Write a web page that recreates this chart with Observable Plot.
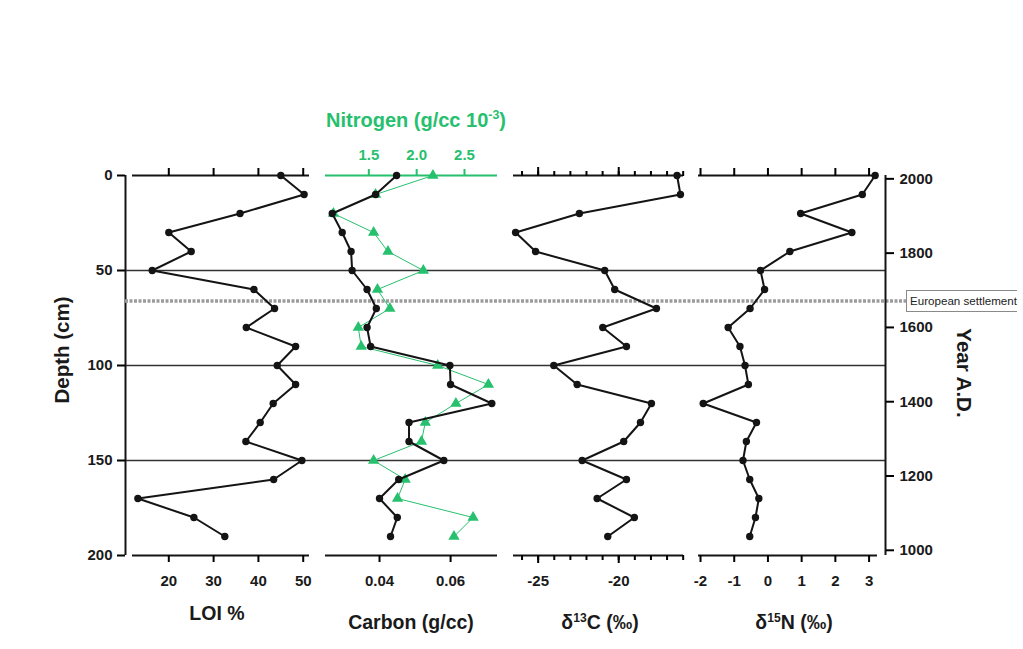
<!DOCTYPE html>
<html><head><meta charset="utf-8">
<script src="https://cdn.jsdelivr.net/npm/d3@7"></script>
<script src="https://cdn.jsdelivr.net/npm/@observablehq/plot@0.6"></script>
<style>
html,body{margin:0;padding:0;background:#fff;overflow:hidden}
#wrap{position:relative;width:1023px;height:649px;overflow:hidden;font-family:"Liberation Sans",Arial,sans-serif;background:#fff}
#wrap svg{position:absolute;left:0;top:0;background:transparent;overflow:visible}
.t{position:absolute;font-weight:bold;font-size:19.5px;color:#1a1a1a;white-space:nowrap;line-height:1}
.t sup{font-size:0.62em;vertical-align:0.62em;line-height:0}
.box{position:absolute;left:906px;top:290px;height:20px;border:1px solid #8a8a8a;border-right:none;padding:0 0 0 3px;font-size:11.6px;line-height:20px;color:#222;white-space:nowrap;background:#fff}
</style></head><body><div id="wrap"></div>
<script>
// ---- data ----
const depth = [0,10,20,30,40,50,60,70,80,90,100,110,120,130,140,150,160,170,180,190];
const loi = [45,50.2,35.9,20,25,16.3,39,43.6,37.3,48.3,44.2,48.3,43.3,40.4,37.2,49.7,43.4,13.1,25.6,32.5];
const carbon = [0.0448,0.0389,0.0267,0.0295,0.0320,0.0323,0.0365,0.0391,0.0365,0.0375,0.0598,0.0600,0.0716,0.0483,0.0483,0.0581,0.0454,0.0400,0.0450,0.0431];
const nitrogen = [2.17,1.57,1.13,1.55,1.70,2.07,1.59,1.72,1.39,1.42,2.22,2.75,2.41,2.09,2.05,1.55,1.88,1.80,2.59,2.39];
const d13C = [-16.38,-16.17,-22.44,-26.4,-25.16,-20.87,-20.25,-17.66,-20.99,-19.52,-24.03,-22.58,-17.97,-18.65,-19.69,-22.27,-19.52,-21.34,-19.03,-20.68];
const d15N = [3.18,2.80,0.97,2.49,0.65,-0.22,-0.10,-0.53,-1.18,-0.83,-0.68,-0.58,-1.92,-0.34,-0.64,-0.74,-0.54,-0.27,-0.37,-0.54];
const depthTicks = [0,50,100,150,200];
const depthLines = [50,100,150];
const settlementDepth = [66];
const yearTicks = [1000,1200,1400,1600,1800,2000];
const loiTicks = [20,30,40,50];
const carbonTicks = [0.04,0.06];
const nitrogenTicks = [1.5,2.0,2.5];
const d13CMajor = [-25,-20];
const d13CMinor = [-26,-25,-24,-23,-22,-21,-20,-19,-18,-17,-16];
const d15NTicks = [-2,-1,0,1,2,3];

const rows = depth.map((d,i)=>({depth:d, loi:loi[i], carbon:carbon[i], nitrogen:nitrogen[i], d13c:d13C[i], d15n:d15N[i]}));

const W = 1023, H = 649, TOP = 175, BOTTOM = H - 555;
const INK = "#141414", GREEN = "#27c06e";
const FONT = "Liberation Sans, Arial, sans-serif";
const wrap = document.getElementById("wrap");

function base(x0, x1, yopts) {
  return {
    width: W, height: H, marginTop: TOP, marginBottom: BOTTOM,
    marginLeft: x0, marginRight: W - x1,
    style: {background: "transparent", fontFamily: FONT, overflow: "visible"},
    y: yopts || {domain: [0, 200], reverse: true, axis: null}
  };
}
const tickText = {fontSize: 15, fontWeight: "bold", fill: "#1a1a1a", label: null};
const blank = () => "";

// frame: depth axis, horizontal reference lines
wrap.append(Plot.plot({
  ...base(125, 885, {domain: [0, 200], reverse: true}),
  x: {domain: [0, 1], axis: null},
  marks: [
    Plot.ruleY(depthLines, {stroke: "#333", strokeWidth: 1.3}),
    Plot.ruleX([0], {stroke: INK, strokeWidth: 2}),
    Plot.axisY({anchor: "left", ticks: depthTicks, tickSize: 8, tickPadding: 5, strokeWidth: 2, ...tickText})
  ]
}));

// settlement dotted line
wrap.append(Plot.plot({
  ...base(125, 906),
  x: {domain: [0, 1], axis: null},
  marks: [Plot.ruleY(settlementDepth, {stroke: "#9c9c9c", strokeWidth: 3.5, strokeDasharray: "3,1.5"})]
}));

// year axis (right)
wrap.append(Plot.plot({
  ...base(125, 885, {domain: [986, 2009]}),
  x: {domain: [0, 1], axis: null},
  marks: [
    Plot.ruleX([1], {stroke: INK, strokeWidth: 2}),
    Plot.axisY({anchor: "right", ticks: yearTicks, tickFormat: "d", tickSize: 8, tickPadding: 6, strokeWidth: 2, ...tickText})
  ]
}));

// LOI panel
wrap.append(Plot.plot({
  ...base(132, 309),
  x: {domain: [11.9, 51.4]},
  marks: [
    Plot.ruleY([0, 200], {stroke: INK, strokeWidth: 2}),
    Plot.axisX({anchor: "bottom", ticks: loiTicks, tickSize: 7, tickPadding: 13, strokeWidth: 2, ...tickText}),
    Plot.axisX({anchor: "top", ticks: loiTicks, tickSize: 8, strokeWidth: 2, tickFormat: blank, label: null}),
    Plot.line(rows, {x: "loi", y: "depth", stroke: INK, strokeWidth: 2}),
    Plot.dot(rows, {x: "loi", y: "depth", r: 3.7, fill: INK})
  ]
}));

// Nitrogen (green, top axis)
wrap.append(Plot.plot({
  ...base(325, 497),
  x: {domain: [1.047, 2.845]},
  marks: [
    Plot.ruleY([0], {stroke: GREEN, strokeWidth: 2}),
    Plot.axisX({anchor: "top", ticks: nitrogenTicks, tickFormat: ".1f", tickSize: 7, tickPadding: 9, strokeWidth: 2, stroke: GREEN, ...tickText, fill: GREEN}),
    Plot.line(rows, {x: "nitrogen", y: "depth", stroke: GREEN, strokeWidth: 1}),
    Plot.dot(rows, {x: "nitrogen", y: "depth", symbol: "triangle", r: 4.2, fill: GREEN})
  ]
}));

// Carbon panel
wrap.append(Plot.plot({
  ...base(325, 497),
  x: {domain: [0.0248, 0.0732]},
  marks: [
    Plot.ruleY([200], {stroke: INK, strokeWidth: 2}),
    Plot.axisX({anchor: "bottom", ticks: carbonTicks, tickFormat: ".2f", tickSize: 7, tickPadding: 13, strokeWidth: 2, ...tickText}),
    Plot.line(rows, {x: "carbon", y: "depth", stroke: INK, strokeWidth: 2}),
    Plot.dot(rows, {x: "carbon", y: "depth", r: 3.7, fill: INK})
  ]
}));

// d13C panel
wrap.append(Plot.plot({
  ...base(513, 683),
  x: {domain: [-26.53, -15.98]},
  marks: [
    Plot.ruleY([0, 200], {stroke: INK, strokeWidth: 2}),
    Plot.axisX({anchor: "bottom", ticks: d13CMinor, tickSize: 5, strokeWidth: 2, tickFormat: blank, label: null}),
    Plot.axisX({anchor: "bottom", ticks: d13CMajor, tickFormat: d => String(d), tickSize: 8, tickPadding: 12, strokeWidth: 2, ...tickText}),
    Plot.axisX({anchor: "top", ticks: d13CMinor, tickSize: 5, strokeWidth: 2, tickFormat: blank, label: null}),
    Plot.axisX({anchor: "top", ticks: d13CMajor, tickSize: 9, strokeWidth: 2, tickFormat: blank, label: null}),
    Plot.line(rows, {x: "d13c", y: "depth", stroke: INK, strokeWidth: 2}),
    Plot.dot(rows, {x: "d13c", y: "depth", r: 3.7, fill: INK})
  ]
}));

// d15N panel
wrap.append(Plot.plot({
  ...base(698, 877),
  x: {domain: [-2.06, 3.25]},
  marks: [
    Plot.ruleY([0, 200], {stroke: INK, strokeWidth: 2}),
    Plot.axisX({anchor: "bottom", ticks: d15NTicks, tickFormat: d => String(d), tickSize: 7, tickPadding: 13, strokeWidth: 2, ...tickText}),
    Plot.axisX({anchor: "top", ticks: d15NTicks, tickSize: 8, strokeWidth: 2, tickFormat: blank, label: null}),
    Plot.line(rows, {x: "d15n", y: "depth", stroke: INK, strokeWidth: 2}),
    Plot.dot(rows, {x: "d15n", y: "depth", r: 3.7, fill: INK})
  ]
}));

// titles
function title(html, left, top, extra) {
  const d = document.createElement("div");
  d.className = "t";
  d.innerHTML = html;
  d.style.left = left + "px";
  d.style.top = top + "px";
  d.style.transform = extra || "translateX(-50%)";
  wrap.append(d);
  return d;
}
title("LOI %", 217, 604);
title("Carbon (g/cc)", 411, 613);
title("δ<sup>13</sup>C (‰)", 600, 613);
title("δ<sup>15</sup>N (‰)", 794, 613);
const nt = title("Nitrogen (g/cc 10<sup>-3</sup>)", 416, 110);
nt.style.color = GREEN; nt.style.fontSize = "20px";
const dt = title("Depth (cm)", 62, 350, "translate(-50%,-50%) rotate(-90deg)");
dt.style.fontSize = "20.5px";
const yt = title("Year A.D.", 964, 373, "translate(-50%,-50%) rotate(90deg)");
yt.style.fontSize = "20.5px";

const box = document.createElement("div");
box.className = "box";
box.textContent = "European settlement";
wrap.append(box);
</script>
</body></html>
